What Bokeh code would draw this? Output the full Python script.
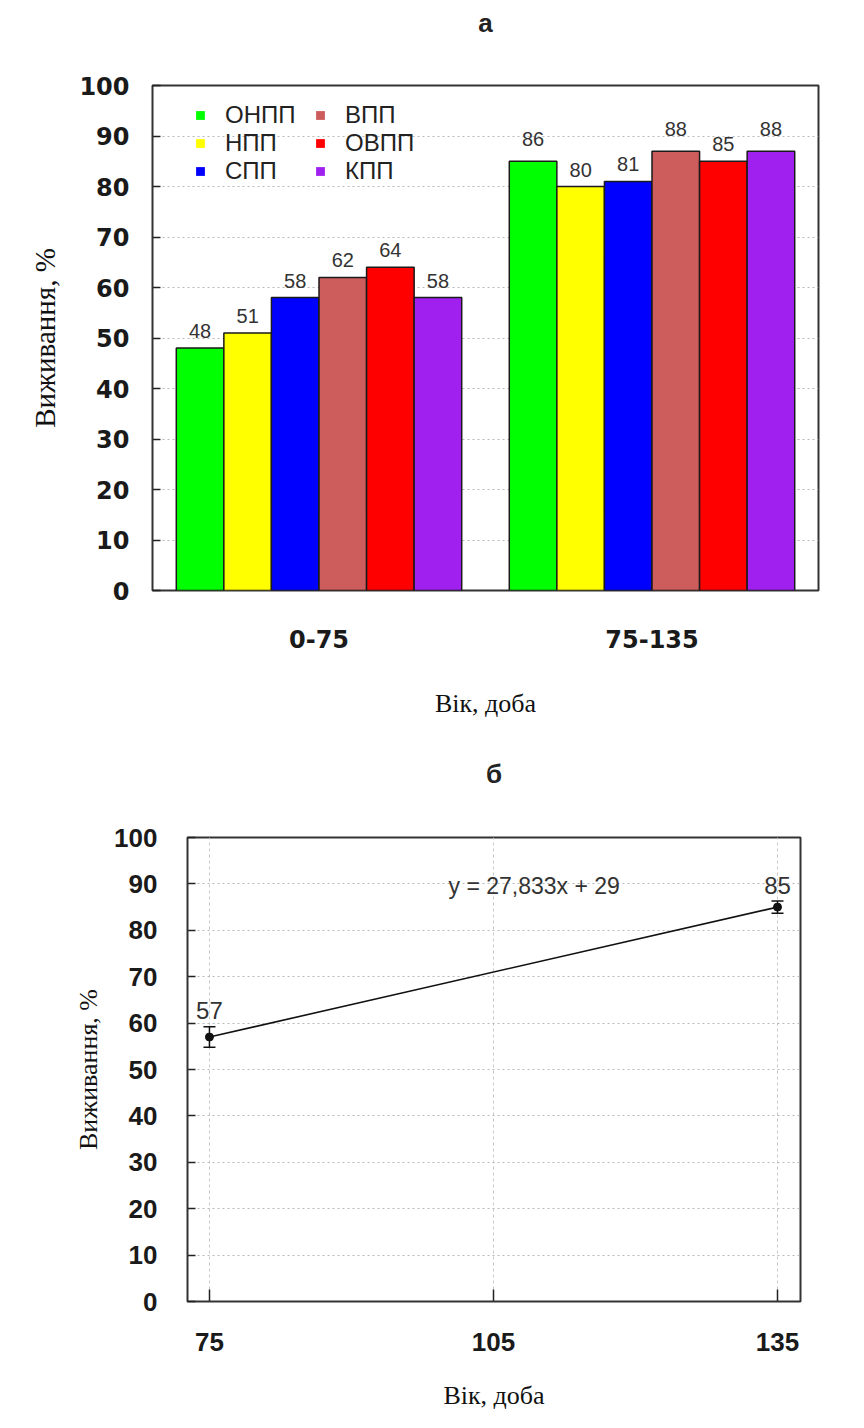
from bokeh.plotting import figure
from bokeh.layouts import column
from bokeh.models import (ColumnDataSource, Legend, LegendItem, FixedTicker,
                          Range1d, Whisker, TeeHead, Label, Title)
from bokeh.core.properties import value
from bokeh.embed import file_html
from bokeh.resources import INLINE

# ---------------- data ----------------
age_groups = ["0-75", "75-135"]
series_names = ["ОНПП", "НПП", "СПП", "ВПП", "ОВПП", "КПП"]
series_colors = ["#00ff00", "#ffff00", "#0000ff", "#cd5c5c", "#ff0000", "#a020f0"]
bars_0_75 = [48, 51, 58, 62, 64, 58]
bars_75_135 = [85, 80, 81, 87, 85, 87]
labels_0_75 = [48, 51, 58, 62, 64, 58]
labels_75_135 = [86, 80, 81, 88, 85, 88]

age_days = [75, 135]
survival_mean = [57, 85]
survival_err = [2.2, 1.3]
age_ticks = [75, 105, 135]
percent_ticks = [0, 10, 20, 30, 40, 50, 60, 70, 80, 90, 100]
trend_text = "y = 27,833x + 29"
title_a = "а"
title_b = "б"
y_title = "Виживання, %"
x_title = "Вік, доба"

SANS = "'Liberation Sans', Arial, Helvetica, sans-serif"
WIDE = "'DejaVu Sans', sans-serif"
SERIF = "'Liberation Serif', 'Times New Roman', serif"


def base_figure(height, x_range, borders, title, spacer_px):
    p = figure(width=848, height=height, x_range=x_range, y_range=Range1d(0, 100),
               output_backend="svg", toolbar_location=None,
               min_border_left=borders[0], min_border_right=borders[1],
               min_border_top=borders[2], min_border_bottom=borders[3])
    if "frame_align" in p.properties():
        p.frame_align = False
    p.background_fill_color = "white"
    p.border_fill_color = "white"
    p.outline_line_color = "#333333"
    p.outline_line_width = 2
    # spacer between the frame and the title (closest to the frame)
    p.add_layout(Title(text=" ", text_font_size=spacer_px, standoff=0), "above")
    p.title.text = title
    p.title.align = "center"
    p.title.text_font = SANS
    p.title.text_font_size = "26px"
    p.title.text_font_style = "bold"
    p.title.text_color = "#222222"
    for ax in (p.yaxis[0], p.xaxis[0]):
        ax.axis_line_color = None
        ax.minor_tick_line_color = None
        ax.major_tick_out = 0
        ax.major_tick_line_width = 1.5
        ax.major_tick_line_color = "#222222"
        ax.major_label_text_font_style = "bold"
        ax.major_label_text_color = "#1a1a1a"
        ax.axis_label_text_font = SERIF
        ax.axis_label_text_font_style = "normal"
        ax.axis_label_text_color = "#111111"
    p.yaxis[0].axis_label = y_title
    p.xaxis[0].axis_label = x_title
    p.yaxis[0].ticker = FixedTicker(ticks=percent_ticks)
    p.yaxis[0].major_tick_in = 8
    p.ygrid.ticker = FixedTicker(ticks=percent_ticks)
    p.ygrid.grid_line_color = "#b8b8b8"
    p.ygrid.grid_line_dash = "2 3"
    p.ygrid.grid_line_width = 1
    return p


# ---------------- chart а ----------------
n = len(series_names)
xs, tops, labs, cols = [], [], [], []
for g, (vals, labv) in enumerate([(bars_0_75, labels_0_75), (bars_75_135, labels_75_135)]):
    for i in range(n):
        xs.append(g * (n + 1) + i + 1)
        tops.append(vals[i])
        labs.append(labv[i])
        cols.append(series_colors[i])
src_a = ColumnDataSource(dict(x=xs, top=tops, lab=[str(v) for v in labs], laby=labs, color=cols))

pa = base_figure(720, Range1d(0, 2 * n + 2), (152, 30, 84, 130), title_a, "37px")
for ax in (pa.yaxis[0], pa.xaxis[0]):
    ax.major_label_text_font = WIDE
    ax.major_label_text_font_size = "24px"
pa.yaxis[0].major_label_standoff = 23
pa.yaxis[0].axis_label_standoff = 15
pa.yaxis[0].axis_label_text_font_size = "29px"
pa.xaxis[0].major_label_standoff = 39
pa.xaxis[0].axis_label_standoff = 38
pa.xaxis[0].axis_label_text_font_size = "26px"
pa.xgrid.grid_line_color = None
group_centers = [g * (n + 1) + (n + 1) / 2 for g in range(len(age_groups))]
pa.xaxis[0].ticker = FixedTicker(ticks=group_centers)
pa.xaxis[0].major_label_overrides = {c: lab for c, lab in zip(group_centers, age_groups)}
pa.xaxis[0].major_tick_line_color = None

pa.vbar(x="x", top="top", width=1.0, bottom=0, source=src_a, fill_color="color",
        line_color="#1a1a1a", line_width=1.5)
pa.text(x="x", y="laby", text="lab", source=src_a, text_align="center", text_baseline="middle",
        y_offset=-17, text_font=value(SANS), text_font_size="20px", text_color="#333333")

legend_items = []
for name, c in zip(series_names, series_colors):
    r = pa.scatter(x=[float("nan")], y=[float("nan")], marker="square", size=9,
                   fill_color=c, line_color=None)
    legend_items.append(LegendItem(label=name, renderers=[r]))
for k, lx in enumerate([37, 157]):
    leg = Legend(items=legend_items[3 * k:3 * k + 3], location=(lx, 405), orientation="vertical",
                 glyph_width=22, glyph_height=22, label_standoff=14, spacing=0, padding=0, margin=0,
                 label_text_font=SANS, label_text_font_size="24px", label_text_color="#222222",
                 label_height=22, background_fill_alpha=0, border_line_color=None)
    pa.add_layout(leg)

# ---------------- chart б ----------------
pb = base_figure(692, Range1d(72.68, 137.43), (187, 48, 117, 110), title_b, "38px")
for ax in (pb.yaxis[0], pb.xaxis[0]):
    ax.major_label_text_font = SANS
    ax.major_label_text_font_size = "26px"
    ax.axis_label_text_font_size = "26px"
pb.yaxis[0].major_label_standoff = 30
pb.yaxis[0].axis_label_standoff = 8
pb.xaxis[0].major_label_standoff = 31
pb.xaxis[0].axis_label_standoff = 27
pb.xaxis[0].ticker = FixedTicker(ticks=age_ticks)
pb.xaxis[0].major_tick_in = 12
pb.xgrid.ticker = FixedTicker(ticks=age_ticks)
pb.xgrid.grid_line_color = "#c8c8c8"
pb.xgrid.grid_line_dash = "3 3"
pb.xgrid.grid_line_width = 1

src_b = ColumnDataSource(dict(
    x=age_days, y=survival_mean,
    upper=[m + e for m, e in zip(survival_mean, survival_err)],
    lower=[m - e for m, e in zip(survival_mean, survival_err)],
    lab=[str(v) for v in survival_mean]))
pb.line(x="x", y="y", source=src_b, line_color="#111111", line_width=1.6)
pb.add_layout(Whisker(base="x", upper="upper", lower="lower", source=src_b,
                      line_color="#111111", line_width=1.5,
                      upper_head=TeeHead(size=12, line_color="#111111", line_width=1.5),
                      lower_head=TeeHead(size=12, line_color="#111111", line_width=1.5)))
pb.scatter(x="x", y="y", source=src_b, size=8, fill_color="#111111", line_color="#111111")
pb.text(x="x", y="upper", text="lab", source=src_b, text_align="center", text_baseline="middle",
        y_offset=-16, text_font=value(SANS), text_font_size="24px", text_color="#333333")
pb.add_layout(Label(x=109.3, y=89.5, text=trend_text, text_align="center", text_baseline="middle",
                    text_font=SANS, text_font_size="23px", text_color="#333333"))

layout = column(pa, pb, spacing=0)
open("out.html", "w").write(file_html(layout, INLINE))
